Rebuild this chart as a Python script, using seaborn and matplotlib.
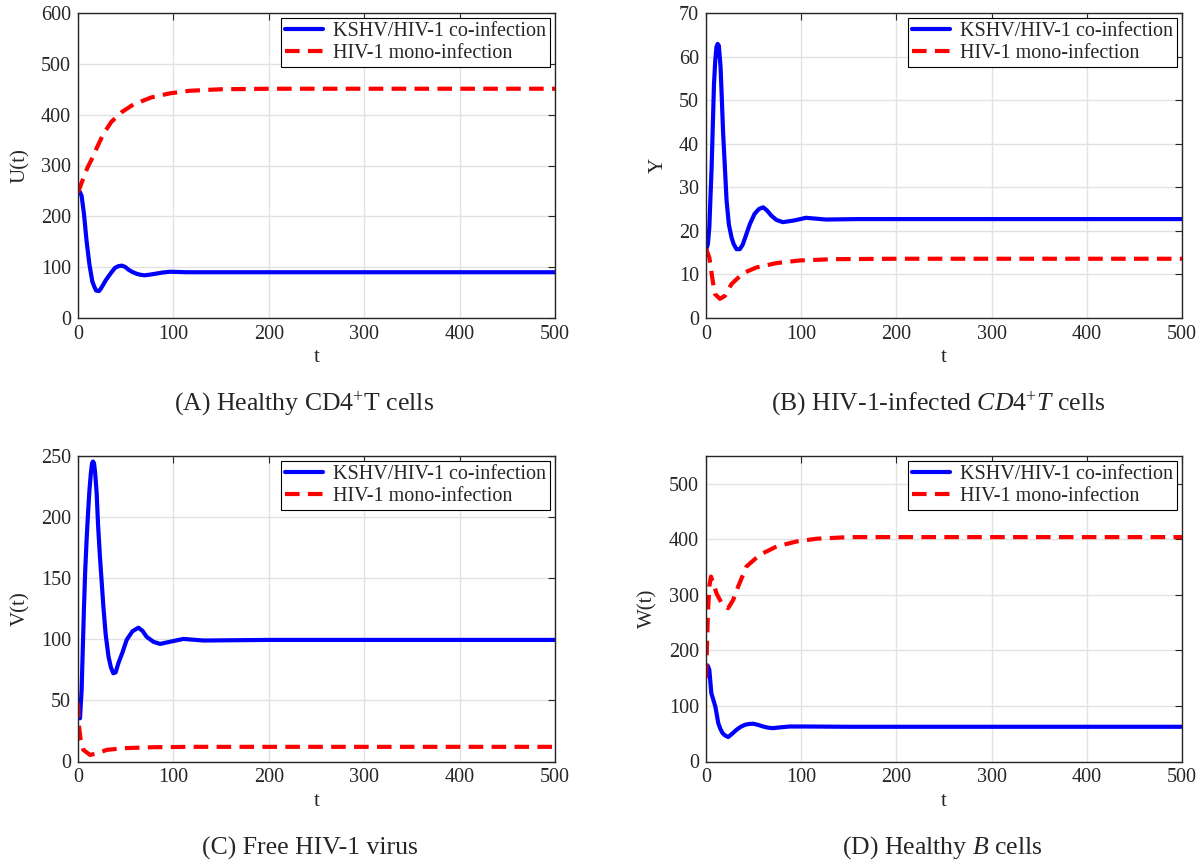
import numpy as np
import pandas as pd
import seaborn as sns
from matplotlib import pyplot as plt

# values (t, value) -- transient part, then steady state
# (A) healthy CD4+ T cells U(t)
tU_co = [0, 2, 3.8, 6.3, 9, 12, 15, 17, 19, 22, 24, 26.6, 29, 32, 35.5, 39, 42.5, 46, 49.5, 53, 57, 61.5,
         65.5, 70, 76, 82.5, 89, 96.5, 114, 140, 200, 300, 400, 500]
U_co = [250, 248, 240, 204, 151, 105, 72, 62, 54, 53, 58, 66, 74, 82, 91, 99, 102, 103, 100.5, 95, 90.5, 87,
        85, 84, 85.5, 87.5, 89.5, 91, 90, 90, 90, 90, 90, 90]
tU_mono = [0, 3, 7, 10, 14.3, 20, 26.6, 35, 45.8, 58, 77, 96.5, 117, 150, 200, 300, 400, 500]
U_mono = [247, 262, 282, 296, 312, 336, 362, 386, 405, 420, 434, 442, 447, 450, 451, 451, 451, 451]

# (B) HIV-1-infected CD4+ T cells Y
tY_co = [0, 2, 3.5, 5.9, 8.4, 9.7, 11, 12.2, 13.5, 15.3, 16.5, 18, 19.5, 21.6, 24, 26.8, 29, 32, 35.5, 38.5,
         42.5, 46, 51, 55.5, 60, 64, 68.6, 74, 80.8, 93, 105, 126, 160, 300, 400, 500]
Y_co = [15.5, 17, 20.8, 34.6, 53.7, 59, 62.2, 62.9, 62.5, 57.6, 51, 42.3, 36, 27, 21.5, 18.5, 17, 15.8, 15.8,
        16.8, 19.3, 21.5, 23.9, 25, 25.4, 24.7, 23.5, 22.5, 22, 22.4, 23, 22.6, 22.7, 22.7, 22.7, 22.7]
tY_mono = [0, 3.5, 7, 9.4, 14.6, 20, 26.8, 39, 53, 74, 98, 133, 200, 300, 400, 500]
Y_mono = [15.9, 13.9, 8.6, 5.5, 4.4, 5.1, 7.8, 10.3, 11.6, 12.6, 13.2, 13.5, 13.6, 13.6, 13.6, 13.6]

# (C) free HIV-1 virus V(t)
tV_co = [0, 1, 2.1, 3.8, 5, 6.3, 7.5, 9, 10.5, 12, 13.5, 14.7, 15.7, 16.8, 18, 19.6, 21, 23, 25, 26.6, 29,
         32, 34.5, 37, 39.5, 42.3, 46.5, 51, 57, 63.3, 67.5, 72, 79, 86, 96.5, 110.5, 131.5, 200, 300, 400, 500]
V_co = [45, 36, 35.4, 58.6, 92, 126.7, 155, 181, 203, 222, 236, 244, 245.5, 244, 236, 219, 194, 167.6, 145,
        126.7, 104, 85.8, 77, 72.2, 73, 80.4, 89, 99.5, 106.5, 109.5, 107, 102, 98, 96.2, 98, 100.3, 99,
        99.5, 99.5, 99.5, 99.5]
tV_mono = [0, 0.7, 2.8, 5.6, 12.6, 21, 30, 47.5, 79, 120, 200, 300, 400, 500]
V_mono = [48, 31, 17.7, 9.5, 5.4, 6.8, 9.5, 10.9, 11.7, 12, 12, 12, 12, 12]

# (D) healthy B cells W(t)
tW_co = [0, 1, 2, 3.5, 5.6, 7.7, 9.8, 12.9, 15, 17.4, 20, 23.3, 27.5, 32, 36, 40.8, 45, 49.5, 54.5, 60, 65,
         70, 78, 88, 105, 150, 300, 400, 500]
W_co = [171, 173, 172, 165, 123, 111, 99, 69, 59, 51, 47, 44, 50, 57, 62, 66, 67.5, 68, 66, 63, 61, 60,
        61.5, 63, 63, 62.5, 62.5, 62.5, 62.5]
tW_mono = [0, 1, 2, 3.5, 5.2, 7.7, 11, 16.4, 23.3, 28.6, 33.8, 42.5, 56.4, 74, 94.8, 115.7, 150, 200, 300, 400, 500]
W_mono = [150, 207, 267, 315, 333, 321, 303, 285, 276, 291, 315, 351, 372, 387, 396, 401, 404, 404, 404, 404, 404]

series_names = ["KSHV/HIV-1 co-infection", "HIV-1 mono-infection"]
ylabels = ["U(t)", "Y", "V(t)", "W(t)"]
ylims = [(0, 600), (0, 70), (0, 250), (0, 550)]
yticks = [np.arange(0, 601, 100), np.arange(0, 71, 10), np.arange(0, 251, 50), np.arange(0, 501, 100)]
captions = ["(A) Healthy CD4$^{+}$T cells",
            "(B) HIV-1-infected $CD4^{+}T$ cells",
            "(C) Free HIV-1 virus",
            "(D) Healthy $B$ cells"]

panels = [(tU_co, U_co, tU_mono, U_mono),
          (tY_co, Y_co, tY_mono, Y_mono),
          (tV_co, V_co, tV_mono, V_mono),
          (tW_co, W_co, tW_mono, W_mono)]


def make_df(t, v, name):
    return pd.DataFrame({"t": t, "value": v, "Case": name})


def plot():
    sns.set_style("whitegrid")
    plt.rcParams["font.family"] = ["Liberation Serif", "DejaVu Serif"]
    plt.rcParams["mathtext.fontset"] = "custom"
    plt.rcParams["mathtext.rm"] = "Liberation Serif"
    plt.rcParams["mathtext.it"] = "Liberation Serif:italic"

    fig = plt.figure(figsize=(12.04, 8.67), dpi=100)
    W, H = 1204, 867
    # axes boxes in pixels: left, top, right, bottom
    boxes = [(78, 13, 555, 318), (706, 13, 1182, 318),
             (78, 456, 555, 761.5), (706, 456, 1182, 761.5)]
    cap_pos = [(304, 404), (938, 404), (310, 848), (942, 848)]

    for i, (t1, v1, t2, v2) in enumerate(panels):
        l, t, r, b = boxes[i]
        ax = fig.add_axes([l / W, 1 - b / H, (r - l) / W, (b - t) / H])
        df = pd.concat([make_df(t1, v1, series_names[0]), make_df(t2, v2, series_names[1])])
        sns.lineplot(data=df[df.Case == series_names[0]], x="t", y="value", color="#0000ff",
                     lw=3, label=series_names[0], ax=ax, sort=False)
        sns.lineplot(data=df[df.Case == series_names[1]], x="t", y="value", color="#ff0000",
                     lw=3, linestyle=(0, (3.5, 2.0)), label=series_names[1], ax=ax, sort=False)
        ax.set_xlim(0, 500)
        ax.set_ylim(*ylims[i])
        ax.set_xticks(np.arange(0, 501, 100))
        ax.set_yticks(yticks[i])
        ax.set_xlabel("t", fontsize=15, labelpad=3)
        ax.set_ylabel(ylabels[i], fontsize=15, labelpad=8)
        ax.tick_params(labelsize=14.5, direction="in", length=5, width=0.8,
                       top=True, right=True, colors="#262626", pad=5)
        ax.grid(True, color="#e2e2e2", lw=1)
        for s in ax.spines.values():
            s.set_color("#262626")
            s.set_linewidth(1)
        leg = ax.legend(loc="upper right", fontsize=14.5, frameon=True, fancybox=False,
                        edgecolor="black", framealpha=1, borderaxespad=0.25,
                        handlelength=1.9, handletextpad=0.5, borderpad=0.2, labelspacing=0.15)
        leg.get_frame().set_linewidth(0.8)

        fig.text(cap_pos[i][0] / W, 1 - cap_pos[i][1] / H, captions[i],
                 ha="center", va="center", fontsize=18.5)

    plt.savefig("out.png", dpi=100)


if __name__ == "__main__":
    plot()
